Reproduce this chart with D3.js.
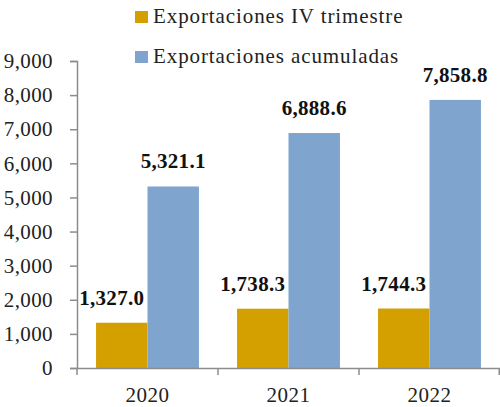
<!DOCTYPE html>
<html>
<head>
<meta charset="utf-8">
<script src="https://cdn.jsdelivr.net/npm/d3@7"></script>
<style>
  body { margin: 0; background: #fff; }
  svg { display: block; }
  svg text { font-family: "Liberation Serif", "Times New Roman", "DejaVu Serif", serif; }
</style>
</head>
<body>
<svg id="chart" width="500" height="407"></svg>
<script>
// Data
var years = ['2020', '2021', '2022'];
var seriesNames = ['Exportaciones IV trimestre', 'Exportaciones acumuladas'];
var trimestre = [1327.0, 1738.3, 1744.3];
var acumuladas = [5321.1, 6888.6, 7858.8];
var yTicks = [0, 1000, 2000, 3000, 4000, 5000, 6000, 7000, 8000, 9000];
var colors = ['#d4a000', '#7fa5cf'];

(function() {
var svg = d3.select('#chart');

var mLeft = 77, mRight = 500, mTop = 61, mBottom = 368;

var x0 = d3.scaleBand().domain(years).range([mLeft, mRight]).padding(0);
var x1 = d3.scaleBand().domain(seriesNames).range([0, x0.bandwidth()])
    .paddingInner(0).paddingOuter(0.37);
var y = d3.scaleLinear().domain([0, 9000]).range([mBottom, mTop]);

var fmt = d3.format(',.1f');

// Rows for each year
var rows = years.map(function(yr, i) {
    return { year: yr, values: [trimestre[i], acumuladas[i]] };
});

// y axis
var yAxis = svg.append('g')
    .attr('transform', 'translate(' + mLeft + ',0)')
    .call(d3.axisLeft(y).tickValues(yTicks).tickFormat(d3.format(',')).tickSize(7).tickPadding(17));
yAxis.attr('font-family', null);
yAxis.select('.domain').attr('stroke', '#8c8c8c').attr('stroke-width', 1.5);
yAxis.selectAll('.tick line').attr('stroke', '#8c8c8c').attr('stroke-width', 1.5);
yAxis.selectAll('.tick text')
    .attr('font-size', 21).attr('letter-spacing', 0.4).attr('fill', '#222');

// bars
var group = svg.selectAll('.year')
    .data(rows)
    .enter().append('g')
        .attr('class', 'year')
        .attr('transform', function(d) { return 'translate(' + x0(d.year) + ',0)'; });

group.selectAll('rect')
    .data(function(d) { return d.values.map(function(v, j) { return { key: seriesNames[j], value: v, j: j }; }); })
    .enter().append('rect')
        .attr('x', function(d) { return x1(d.key); })
        .attr('width', x1.bandwidth())
        .attr('y', function(d) { return y(d.value); })
        .attr('height', function(d) { return mBottom - y(d.value); })
        .attr('fill', function(d) { return colors[d.j]; });

// value labels (gold labels sit a bit to the left, as in the source)
group.selectAll('.lbl')
    .data(function(d) { return d.values.map(function(v, j) { return { key: seriesNames[j], value: v, j: j }; }); })
    .enter().append('text')
        .attr('class', 'lbl')
        .attr('x', function(d) { return x1(d.key) + x1.bandwidth() / 2 - (d.j === 0 ? 10 : 0); })
        .attr('y', function(d) { return y(d.value) - 18; })
        .attr('text-anchor', 'middle')
        .attr('font-size', 21)
        .attr('font-weight', 'bold')
        .attr('letter-spacing', 0.3)
        .attr('fill', '#111')
        .text(function(d) { return fmt(d.value); });

// x axis
var xAxis = svg.append('g')
    .attr('transform', 'translate(0,' + mBottom + ')')
    .call(d3.axisBottom(x0).tickSize(0).tickPadding(19));
xAxis.attr('font-family', null);
xAxis.select('.domain').attr('stroke', '#8c8c8c').attr('stroke-width', 1.5);
xAxis.selectAll('.tick text')
    .attr('font-size', 21).attr('letter-spacing', 0.5).attr('fill', '#222');
xAxis.selectAll('.sep')
    .data(years.concat(['end']))
    .enter().append('line')
        .attr('class', 'sep')
        .attr('x1', function(d) { return d === 'end' ? mRight - 0.75 : x0(d); })
        .attr('x2', function(d) { return d === 'end' ? mRight - 0.75 : x0(d); })
        .attr('y1', 0).attr('y2', 7)
        .attr('stroke', '#8c8c8c').attr('stroke-width', 1.5);

// legend
var legend = svg.selectAll('.legend')
    .data(seriesNames)
    .enter().append('g')
        .attr('class', 'legend')
        .attr('transform', function(d, i) { return 'translate(135,' + (i * 40) + ')'; });
legend.append('rect')
    .attr('x', 0).attr('y', 11).attr('width', 13).attr('height', 12)
    .attr('fill', function(d, i) { return colors[i]; });
legend.append('text')
    .attr('x', 18).attr('y', 23)
    .attr('font-size', 21).attr('letter-spacing', 0.9).attr('fill', '#222')
    .text(function(d) { return d; });
})();
</script>
</body>
</html>
